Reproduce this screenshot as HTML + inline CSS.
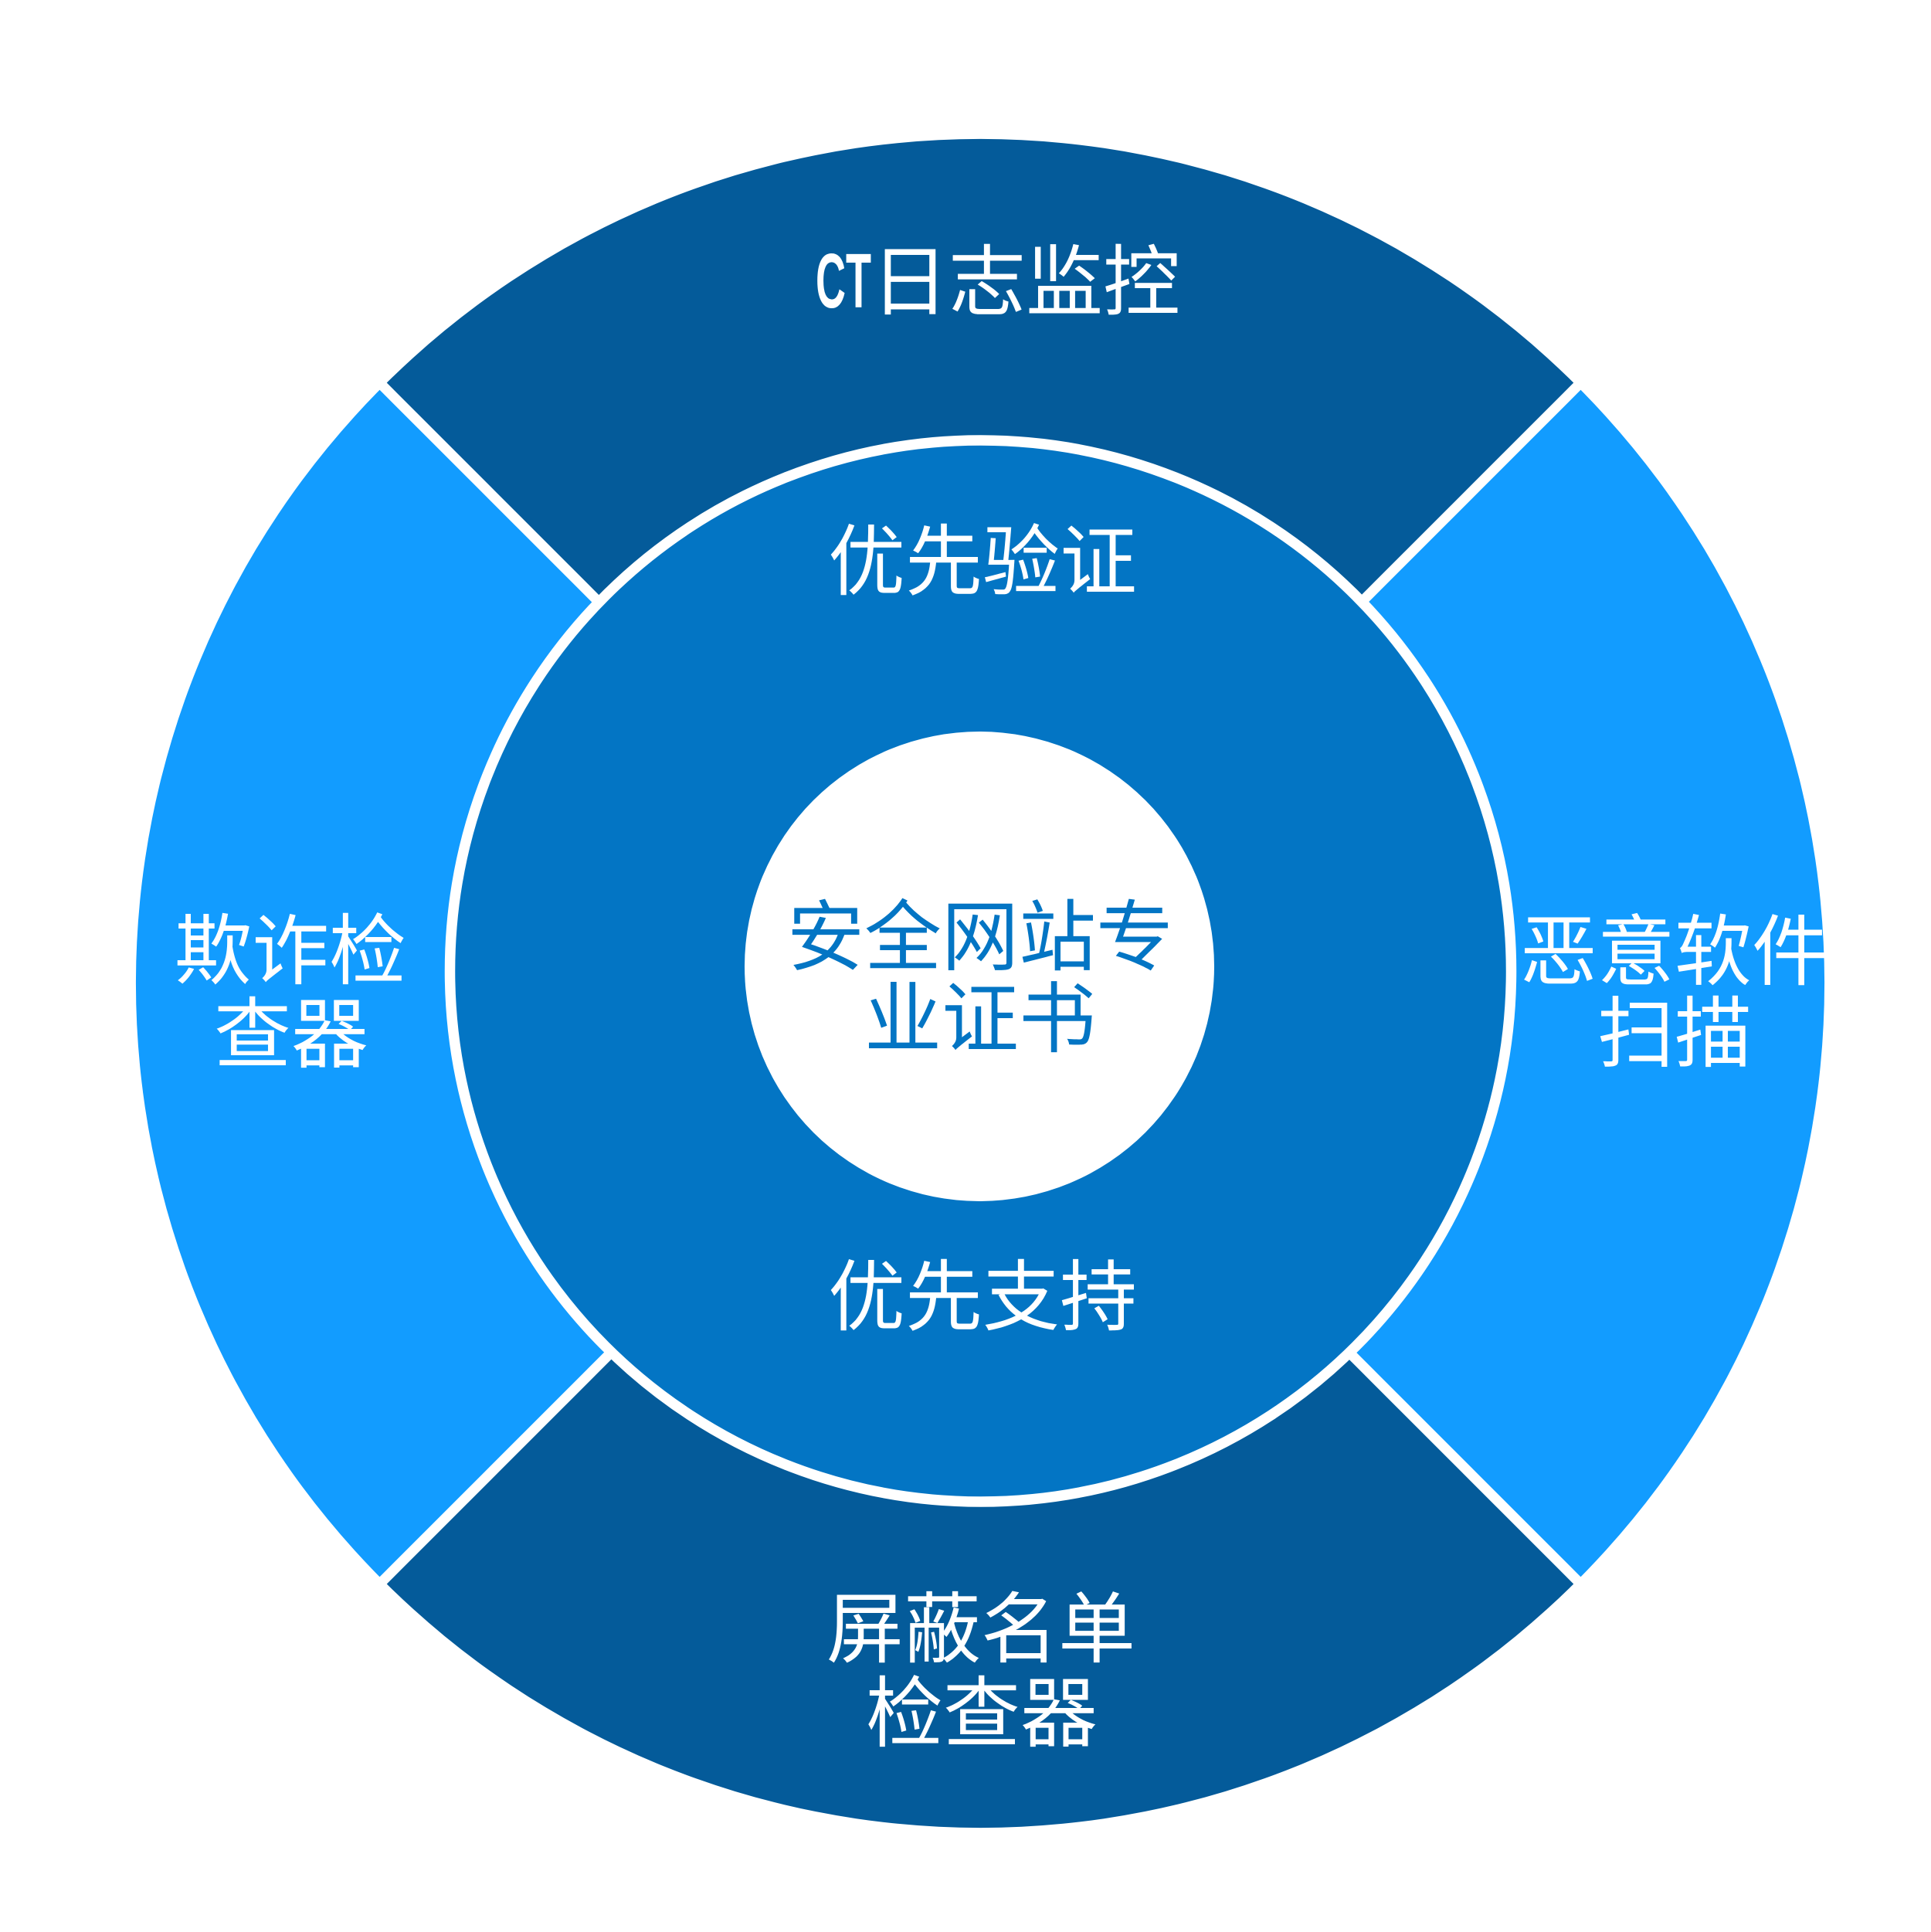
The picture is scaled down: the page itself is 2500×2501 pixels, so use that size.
<!DOCTYPE html>
<html>
<head>
<meta charset="utf-8">
<style>
  html, body { margin: 0; padding: 0; background: #ffffff; }
  body { width: 2500px; height: 2501px; overflow: hidden; }
  svg { display: block; }
  .t { font-family: "Liberation Sans", "Noto Sans CJK SC", sans-serif; font-size: 100px; fill: #ffffff; }
  .c { font-family: "Liberation Sans", "Noto Sans CJK SC", sans-serif; font-size: 100px; fill: #0375C4; }
</style>
</head>
<body>
<svg width="2500" height="2501" viewBox="0 0 2500 2501" xmlns="http://www.w3.org/2000/svg">
  <rect x="0" y="0" width="2500" height="2501" fill="#ffffff"/>
  <!-- outer sectors -->
  <path d="M1269 1273 L496.1 500.1 A1093 1093 0 0 1 2041.9 500.1 Z" fill="#045B9A"/>
  <path d="M1269 1273 L2041.9 500.1 A1093 1093 0 0 1 2041.9 2045.9 Z" fill="#129CFF"/>
  <path d="M1269 1273 L2041.9 2045.9 A1093 1093 0 0 1 496.1 2045.9 Z" fill="#045B9A"/>
  <path d="M1269 1273 L496.1 2045.9 A1093 1093 0 0 1 496.1 500.1 Z" fill="#129CFF"/>
  <!-- dividers -->
  <line x1="449" y1="453" x2="2089" y2="2093" stroke="#ffffff" stroke-width="13"/>
  <line x1="2089" y1="453" x2="449" y2="2093" stroke="#ffffff" stroke-width="13"/>
  <!-- inner disk -->
  <circle cx="1269.5" cy="1257" r="687" fill="#0375C4" stroke="#ffffff" stroke-width="13.5"/>
  <!-- center white circle -->
  <circle cx="1268" cy="1251" r="304" fill="#ffffff"/>

  <!-- outer labels -->
  <text x="1056" y="398" font-family="'Liberation Sans Narrow', 'Liberation Sans', sans-serif" font-weight="bold" font-size="100" fill="#ffffff" textLength="72" lengthAdjust="spacingAndGlyphs">CT</text>
  <text class="t" x="1128" y="400">日志监控</text>

  <text class="t" x="376" y="1266" text-anchor="middle">欺诈检</text>
  <text class="t" x="377" y="1374" text-anchor="middle">查器</text>

  <text class="t" x="2168" y="1267" text-anchor="middle">恶意软件</text>
  <text class="t" x="2168" y="1373" text-anchor="middle">扫描</text>

  <text class="t" x="1270" y="2144" text-anchor="middle">屏蔽名单</text>
  <text class="t" x="1271" y="2253" text-anchor="middle">检查器</text>

  <!-- inner ring labels -->
  <text class="t" x="1272" y="762" text-anchor="middle">优先验证</text>
  <text class="t" x="1272" y="1714" text-anchor="middle">优先支持</text>

  <!-- center labels -->
  <text class="c" x="1269" y="1248" text-anchor="middle">安全网站专</text>
  <text class="c" x="1269" y="1354" text-anchor="middle">业证书</text>
</svg>
</body>
</html>
